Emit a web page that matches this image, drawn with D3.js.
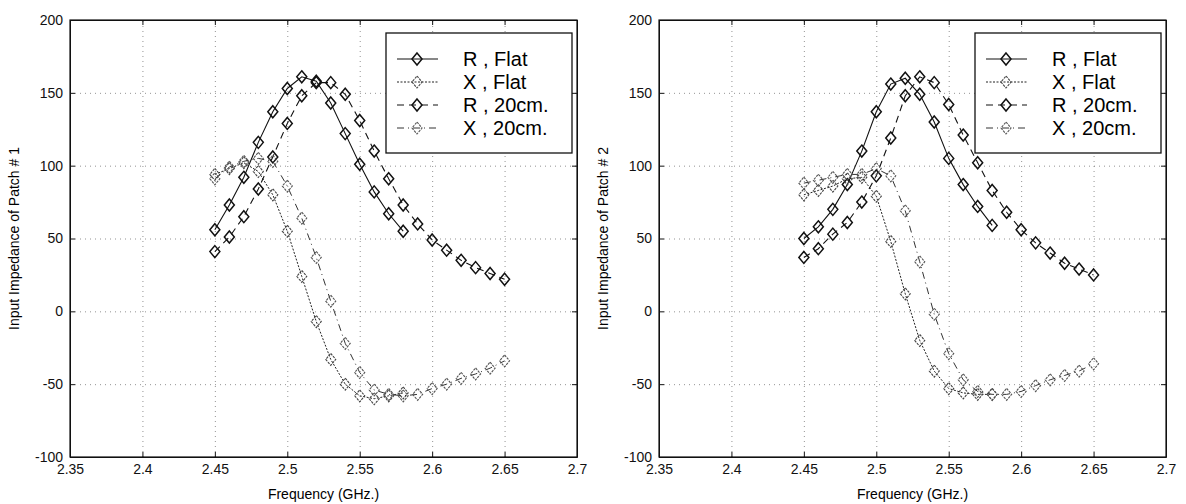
<!DOCTYPE html>
<html>
<head>
<meta charset="utf-8">
<script src="https://cdn.jsdelivr.net/npm/d3@7"></script>
<style>
	body { margin: 0; background: #fff; }
	svg { display: block; font-family: "Liberation Sans", Arial, Helvetica, sans-serif; }
	.grid line { stroke: #777; stroke-width: 0.8; stroke-dasharray: 1,4; }
	.grid path { display: none; }
	.ax path, .ax line { stroke: #111; stroke-width: 1; }
	.ax text { font-size: 14px; fill: #111; }
</style>
</head>
<body>
<svg id="chart" width="1186" height="504"></svg>
<script>
var freqFlat = [2.45, 2.46, 2.47, 2.48, 2.49, 2.50, 2.51, 2.52, 2.53, 2.54, 2.55, 2.56, 2.57, 2.58];
var freq20 = [2.45, 2.46, 2.47, 2.48, 2.49, 2.50, 2.51, 2.52, 2.53, 2.54, 2.55, 2.56, 2.57, 2.58,
	2.59, 2.60, 2.61, 2.62, 2.63, 2.64, 2.65];

// patch #1
var rFlat1 = [56, 73, 92, 116, 137, 153, 161, 158, 143, 122, 101, 82, 67, 55];
var xFlat1 = [94, 98, 102, 96, 80, 55, 24, -7, -33, -50, -58, -60, -58, -56];
var r20cm1 = [41, 51, 65, 84, 106, 129, 148, 157, 157, 149, 131, 110, 91, 73, 60, 49, 42, 35, 30, 26, 22];
var x20cm1 = [91, 99, 103, 105, 103, 86, 64, 37, 7, -22, -42, -54, -57, -58, -57, -53, -50, -46, -43, -39, -34];

// patch #2
var rFlat2 = [50, 58, 70, 87, 110, 137, 156, 160, 149, 130, 105, 87, 72, 59];
var xFlat2 = [80, 83, 86, 91, 92, 79, 48, 12, -20, -41, -53, -56, -57, -57];
var r20cm2 = [37, 43, 53, 61, 75, 93, 119, 148, 161, 157, 142, 121, 102, 83, 68, 56, 47, 40, 33, 29, 25];
var x20cm2 = [88, 90, 92, 94, 94, 98, 93, 69, 34, -2, -29, -47, -55, -57, -57, -55, -51, -47, -44, -41, -36];

var xTicks = [2.35, 2.4, 2.45, 2.5, 2.55, 2.6, 2.65, 2.7];
var yTicks = [-100, -50, 0, 50, 100, 150, 200];
var legendNames = ['R , Flat', 'X , Flat', 'R , 20cm.', 'X , 20cm.'];

var styles = [
	{dash: null, width: 1.1, color: '#111', mark: '#111', markW: 1.5, markDash: null},
	{dash: '2,1.5', width: 1, color: '#222', mark: '#444', markW: 1.1, markDash: '2.5,1'},
	{dash: '7,5', width: 1.1, color: '#111', mark: '#111', markW: 1.5, markDash: null},
	{dash: '7,4,1,4', width: 1, color: '#333', mark: '#555', markW: 1.1, markDash: '2.5,1'}
];

var svg = d3.select('#chart');
var yTop = 20, yBottom = 457;

var diamond = function(sel, s) {
	sel.attr('d', 'M0,-6L5,0L0,6L-5,0Z')
		.attr('fill', 'none')
		.attr('stroke', s.mark)
		.attr('stroke-width', s.markW)
		.attr('stroke-dasharray', s.markDash);
};

var drawPanel = function(left, right, ylabel, series) {
	var x = d3.scaleLinear().domain([2.35, 2.7]).range([left, right]),
		y = d3.scaleLinear().domain([-100, 200]).range([yBottom, yTop]),
		g = svg.append('g');

	g.append('g').attr('class', 'grid')
		.attr('transform', 'translate(0,' + yBottom + ')')
		.call(d3.axisBottom(x).tickValues(xTicks.slice(1, -1)).tickSize(-(yBottom - yTop)).tickFormat(''));
	g.append('g').attr('class', 'grid')
		.attr('transform', 'translate(' + left + ',0)')
		.call(d3.axisLeft(y).tickValues(yTicks.slice(1, -1)).tickSize(-(right - left)).tickFormat(''));

	var line = d3.line().x(function(d) { return x(d[0]); }).y(function(d) { return y(d[1]); });

	series.forEach(function(s, i) {
		var pts = d3.zip(s.f, s.v), st = styles[i];
		g.append('path').datum(pts)
			.attr('d', line)
			.attr('fill', 'none')
			.attr('stroke', st.color)
			.attr('stroke-width', st.width)
			.attr('stroke-dasharray', st.dash);
		g.append('g').selectAll('path').data(pts).enter().append('path')
			.attr('transform', function(d) { return 'translate(' + x(d[0]) + ',' + y(d[1]) + ')'; })
			.call(diamond, st);
	});

	var fmt = function(d) { return String(+d.toFixed(2)); };
	g.append('g').attr('class', 'ax')
		.attr('transform', 'translate(0,' + yBottom + ')')
		.call(d3.axisBottom(x).tickValues(xTicks).tickSize(-5).tickPadding(7).tickSizeOuter(0).tickFormat(fmt));
	g.append('g').attr('class', 'ax')
		.attr('transform', 'translate(0,' + yTop + ')')
		.call(d3.axisTop(x).tickValues(xTicks).tickSize(-5).tickSizeOuter(0).tickFormat(''));
	g.append('g').attr('class', 'ax')
		.attr('transform', 'translate(' + left + ',0)')
		.call(d3.axisLeft(y).tickValues(yTicks).tickSize(-5).tickPadding(7).tickSizeOuter(0)
			.tickFormat(function(d) { return String(d); }));
	g.append('g').attr('class', 'ax')
		.attr('transform', 'translate(' + right + ',0)')
		.call(d3.axisRight(y).tickValues(yTicks).tickSize(-5).tickSizeOuter(0).tickFormat(''));
	g.append('rect')
		.attr('x', left).attr('y', yTop)
		.attr('width', right - left).attr('height', yBottom - yTop)
		.attr('fill', 'none').attr('stroke', '#111').attr('stroke-width', 1.2);

	g.append('text')
		.attr('x', (left + right) / 2).attr('y', 499)
		.attr('text-anchor', 'middle')
		.attr('font-size', 14)
		.text('Frequency (GHz.)');
	g.append('text')
		.attr('transform', 'translate(' + (left - 51) + ',' + ((yTop + yBottom) / 2) + ') rotate(-90)')
		.attr('text-anchor', 'middle')
		.attr('font-size', 14)
		.text(ylabel);

	// legend
	var lx = left + 316, ly = 33, lw = right - 5 - lx, lh = 120;
	var lg = g.append('g');
	lg.append('rect')
		.attr('x', lx).attr('y', ly).attr('width', lw).attr('height', lh)
		.attr('fill', '#fff').attr('stroke', '#111').attr('stroke-width', 1.3);
	legendNames.forEach(function(name, i) {
		var st = styles[i], cy = ly + 26 + i * 23;
		lg.append('line')
			.attr('x1', lx + 11).attr('x2', lx + 52).attr('y1', cy).attr('y2', cy)
			.attr('stroke', st.color).attr('stroke-width', st.width)
			.attr('stroke-dasharray', st.dash);
		lg.append('path')
			.attr('transform', 'translate(' + (lx + 31) + ',' + cy + ')')
			.call(diamond, st);
		lg.append('text')
			.attr('x', lx + 77).attr('y', cy + 7)
			.attr('font-size', 20)
			.text(name);
	});
};

drawPanel(70, 577, 'Input Impedance of Patch # 1', [
	{f: freqFlat, v: rFlat1}, {f: freqFlat, v: xFlat1}, {f: freq20, v: r20cm1}, {f: freq20, v: x20cm1}
]);
drawPanel(659, 1166, 'Input Impedance of Patch # 2', [
	{f: freqFlat, v: rFlat2}, {f: freqFlat, v: xFlat2}, {f: freq20, v: r20cm2}, {f: freq20, v: x20cm2}
]);
</script>
</body>
</html>
